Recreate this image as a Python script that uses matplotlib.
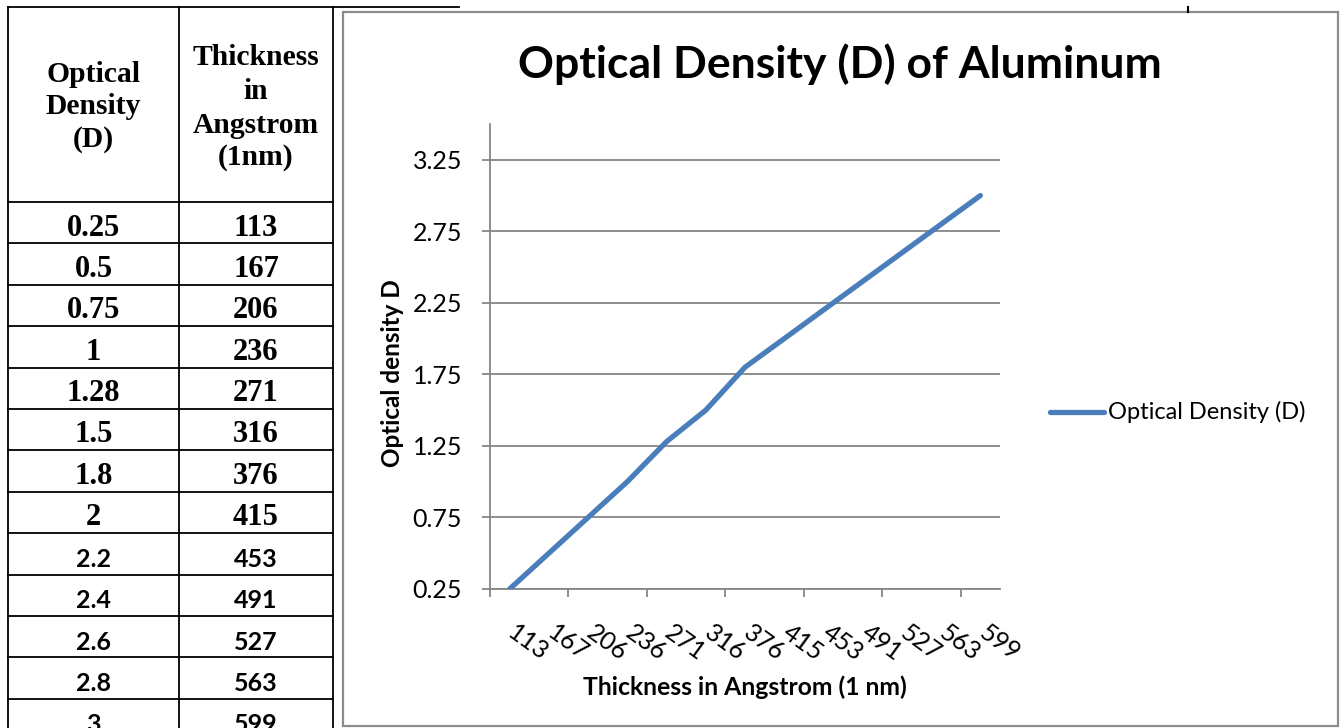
import matplotlib
matplotlib.use("Agg")
import matplotlib.pyplot as plt
from matplotlib.lines import Line2D
from matplotlib.patches import Rectangle
from matplotlib.transforms import ScaledTranslation
import numpy as np

# ---- data ----
density = [0.25, 0.5, 0.75, 1, 1.28, 1.5, 1.8, 2, 2.2, 2.4, 2.6, 2.8, 3]
density_labels = ["0.25", "0.5", "0.75", "1", "1.28", "1.5", "1.8", "2", "2.2", "2.4", "2.6", "2.8", "3"]
thickness = ["113", "167", "206", "236", "271", "316", "376", "415", "453", "491", "527", "563", "599"]
y_ticks = [0.25, 0.75, 1.25, 1.75, 2.25, 2.75, 3.25]
y_tick_labels = ["0.25", "0.75", "1.25", "1.75", "2.25", "2.75", "3.25"]
series_name = "Optical Density (D)"
title = "Optical Density (D) of Aluminum"
x_label = "Thickness in Angstrom (1 nm)"
y_label = "Optical density D"
hdr1 = ["Optical", "Density", "(D)"]
hdr2 = ["Thickness", "in", "Angstrom", "(1nm)"]

W, H = 1343, 728
fig = plt.figure(figsize=(W / 100, H / 100), dpi=100)
fig.patch.set_facecolor("white")

SANS = ["Lato", "DejaVu Sans"]
SERIF = ["Liberation Serif", "DejaVu Serif"]

def P(x, y):
    return (x / W, 1 - y / H)

def hline(x0, x1, y, color="black", lw=1.3):
    fig.add_artist(Line2D([x0 / W, x1 / W], [1 - y / H, 1 - y / H], transform=fig.transFigure, color=color, lw=lw))

def vline(x, y0, y1, color="black", lw=1.3):
    fig.add_artist(Line2D([x / W, x / W], [1 - y0 / H, 1 - y1 / H], transform=fig.transFigure, color=color, lw=lw))

# ---- table ----
col_l, col_m, col_r = 8, 179, 333
c1, c2 = (col_l + col_m) / 2, (col_m + col_r) / 2
hline(col_l, 459, 7)
hdr_bottom = 202
row_h = 41.4
n = len(density)
for i in range(n + 1):
    y = hdr_bottom + row_h * i
    if y < H:
        hline(col_l, col_r, y)
vline(col_l, 7, H)
vline(col_m, 7, H)
vline(col_r, 7, H)

hdr1_base = [82, 114, 147]
hdr2_base = [65, 99, 133, 165]
for t, b in zip(hdr1, hdr1_base):
    fig.text(*P(c1, b), t, ha="center", va="baseline", fontsize=21.3, fontweight="bold", family=SERIF)
for t, b in zip(hdr2, hdr2_base):
    fig.text(*P(c2, b), t, ha="center", va="baseline", fontsize=21.3, fontweight="bold", family=SERIF)

for i, (d, t) in enumerate(zip(density_labels, thickness)):
    base = hdr_bottom + row_h * i + 33.5
    if i < 8:
        fam, fs = SERIF, 22
    else:
        fam, fs = SANS, 18
    fig.text(*P(c1, base), d, ha="center", va="baseline", fontsize=fs, fontweight="bold", family=fam)
    fig.text(*P(c2, base), t, ha="center", va="baseline", fontsize=fs, fontweight="bold", family=fam)

# ---- chart frame ----
fig.add_artist(Rectangle(P(343, 726), 995 / W, 714 / H, transform=fig.transFigure,
                         fill=False, edgecolor="#8c8c8c", lw=1.6))
vline(1188, 7, 12, lw=1.5)

# ---- chart ----
grey = "#868686"
ax_l, ax_r, ax_t, ax_b = 490, 1000, 124, 589
ax = fig.add_axes([ax_l / W, 1 - ax_b / H, (ax_r - ax_l) / W, (ax_b - ax_t) / H])
x = np.arange(n)
ax.plot(x, density, color="#4A7EBB", lw=3.8, solid_capstyle="round", solid_joinstyle="round",
        label=series_name, zorder=3)
ax.set_xlim(-0.5, n - 0.5)
ax.set_ylim(0.25, 3.5)
ax.set_yticks(y_ticks)
ax.set_yticklabels(y_tick_labels, family=SANS, fontsize=18)
ax.yaxis.grid(True, color=grey, lw=1.3)
ax.set_axisbelow(True)
for s in ["top", "right"]:
    ax.spines[s].set_visible(False)
for s in ["left", "bottom"]:
    ax.spines[s].set_color(grey)
    ax.spines[s].set_linewidth(1.3)
ax.tick_params(axis="y", length=6, width=1.3, color=grey, pad=14)
# major ticks every two categories at category boundaries, labels on every category
ax.set_xticks(np.arange(-0.5, n - 0.5, 2))
ax.set_xticklabels([])
ax.tick_params(axis="x", which="major", length=6, width=1.3, color=grey, direction="out")
ax.set_xticks(x, minor=True)
ax.set_xticklabels(thickness, minor=True, family=SANS, fontsize=18, rotation=-36,
                   ha="left", va="top", rotation_mode="anchor")
ax.tick_params(axis="x", which="minor", length=0, pad=23)
shift = ScaledTranslation(8 / 100, 0, fig.dpi_scale_trans)
for lab in ax.xaxis.get_minorticklabels():
    lab.set_transform(lab.get_transform() + shift)

ax.set_ylabel(y_label, family=SANS, fontsize=17.5, fontweight="bold", labelpad=0)
ax.yaxis.set_label_coords((393 - ax_l) / (ax_r - ax_l), (ax_b - 373) / (ax_b - ax_t))
ax.yaxis.label.set_verticalalignment("center")

fig.text(*P(745, 687), x_label, ha="center", va="center", family=SANS, fontsize=17.8, fontweight="bold")
fig.text(*P(840, 78), title, ha="center", va="baseline", family=SANS, fontsize=32, fontweight="bold")

# legend
leg_line = Line2D([1050 / W, 1104 / W], [1 - 412 / H] * 2, transform=fig.transFigure,
                  color="#4A7EBB", lw=3.8, solid_capstyle="round")
fig.add_artist(leg_line)
fig.text(*P(1108, 412), series_name, ha="left", va="center", family=SANS, fontsize=17)

fig.savefig("out.png", dpi=100, facecolor="white")
